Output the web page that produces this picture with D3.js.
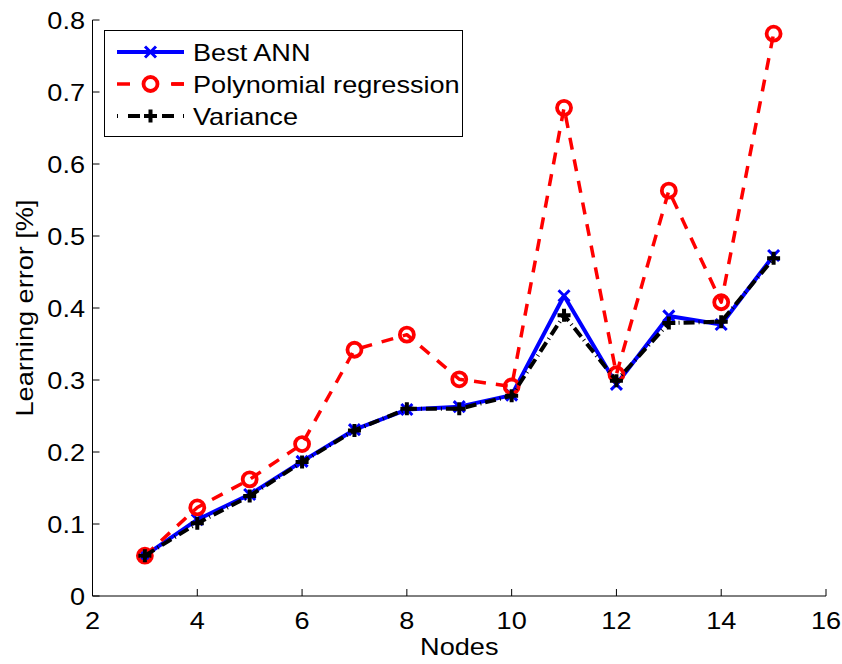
<!DOCTYPE html>
<html>
<head>
<meta charset="utf-8">
<script src="https://cdn.jsdelivr.net/npm/d3@7"></script>
<style>
  body { margin: 0; background: #fff; }
  svg { display: block; font-family: "Liberation Sans", Arial, sans-serif; }
</style>
</head>
<body>
<div class="chart"></div>
<script>
(function () {
  'use strict';

  var nodes = [3, 4, 5, 6, 7, 8, 9, 10, 11, 12, 13, 14, 15];
  var bestAnn = [0.056, 0.106, 0.141, 0.187, 0.231, 0.259, 0.263, 0.279, 0.417, 0.294, 0.389, 0.377, 0.473];
  var polyReg = [0.056, 0.123, 0.162, 0.211, 0.342, 0.363, 0.301, 0.291, 0.678, 0.308, 0.563, 0.408, 0.781];
  var variance = [0.056, 0.101, 0.139, 0.186, 0.230, 0.260, 0.260, 0.278, 0.390, 0.299, 0.379, 0.381, 0.469];
  var xTicks = [2, 4, 6, 8, 10, 12, 14, 16];
  var yTicks = [0, 0.1, 0.2, 0.3, 0.4, 0.5, 0.6, 0.7, 0.8];
  var legendLabels = ['Best ANN', 'Polynomial regression', 'Variance'];

  var W = 842, H = 664;
  var left = 92.5, right = 826, top = 20, bottom = 596;
  var fs = 24, sx = 1.13;

  var x = d3.scaleLinear().domain([2, 16]).range([left, right]);
  var y = d3.scaleLinear().domain([0, 0.8]).range([bottom, top]);

  var svg = d3.select('.chart').append('svg')
      .attr('width', W)
      .attr('height', H);

  function label(g, tx, ty, str, anchor, rot) {
    return g.append('text')
      .attr('transform', 'translate(' + tx + ',' + ty + ')' + (rot ? ' rotate(' + rot + ')' : '') + ' scale(' + sx + ',1)')
      .attr('text-anchor', anchor)
      .attr('font-size', fs)
      .attr('fill', '#000')
      .text(str);
  }

  // axes (left and bottom only, ticks inward)
  var axes = svg.append('g');
  axes.append('line').attr('x1', left).attr('x2', left).attr('y1', top).attr('y2', bottom)
    .attr('stroke', '#000').attr('stroke-width', 1);
  axes.append('line').attr('x1', left).attr('x2', right).attr('y1', bottom).attr('y2', bottom)
    .attr('stroke', '#000').attr('stroke-width', 1);

  xTicks.forEach(function (t) {
    axes.append('line')
      .attr('x1', x(t)).attr('x2', x(t)).attr('y1', bottom).attr('y2', bottom - 7)
      .attr('stroke', '#000');
    label(axes, x(t), 629, t, 'middle');
  });

  yTicks.forEach(function (t) {
    axes.append('line')
      .attr('x1', left).attr('x2', left + 7).attr('y1', y(t)).attr('y2', y(t))
      .attr('stroke', '#000');
    label(axes, 85, y(t) + 8.5, t === 0 ? '0' : d3.format('.1f')(t), 'end');
  });

  label(axes, (left + right) / 2, 655, 'Nodes', 'middle');
  label(axes, 33, (top + bottom) / 2, 'Learning error [%]', 'middle', -90);

  var line = d3.line()
    .x(function (d) { return x(d[0]); })
    .y(function (d) { return y(d[1]); });

  function pairs(vals) {
    return nodes.map(function (n, i) { return [n, vals[i]]; });
  }

  var series = [
    { name: legendLabels[0], values: bestAnn, color: '#0000ff', width: 4, dash: null, marker: 'x' },
    { name: legendLabels[1], values: polyReg, color: '#ff0000', width: 3.5, dash: '12,10', marker: 'o' },
    { name: legendLabels[2], values: variance, color: '#000000', width: 4, dash: '11,4,1,4', marker: '+' }
  ];

  function drawMarker(g, type, cx, cy, color) {
    if (type === 'x') {
      var s = 5.5;
      g.append('path')
        .attr('d', 'M' + (cx - s) + ',' + (cy - s) + 'L' + (cx + s) + ',' + (cy + s) +
                   'M' + (cx - s) + ',' + (cy + s) + 'L' + (cx + s) + ',' + (cy - s))
        .attr('stroke', color).attr('stroke-width', 3).attr('fill', 'none');
    } else if (type === 'o') {
      g.append('circle')
        .attr('cx', cx).attr('cy', cy).attr('r', 7)
        .attr('stroke', color).attr('stroke-width', 3.8).attr('fill', 'none');
    } else {
      var p = 6.5;
      g.append('path')
        .attr('d', 'M' + (cx - p) + ',' + cy + 'L' + (cx + p) + ',' + cy +
                   'M' + cx + ',' + (cy - p) + 'L' + cx + ',' + (cy + p))
        .attr('stroke', color).attr('stroke-width', 4).attr('fill', 'none');
    }
  }

  var plot = svg.append('g');
  series.forEach(function (s) {
    var data = pairs(s.values);
    plot.append('path')
      .datum(data)
      .attr('d', line)
      .attr('fill', 'none')
      .attr('stroke', s.color)
      .attr('stroke-width', s.width)
      .attr('stroke-linejoin', 'round')
      .attr('stroke-dasharray', s.dash);
    data.forEach(function (d) {
      drawMarker(plot, s.marker, x(d[0]), y(d[1]), s.color);
    });
  });

  // legend
  var lg = svg.append('g');
  lg.append('rect')
    .attr('x', 104.5).attr('y', 30.5).attr('width', 358).attr('height', 106)
    .attr('fill', '#fff').attr('stroke', '#000').attr('stroke-width', 1);

  var rowY = [52, 84, 116];
  series.forEach(function (s, i) {
    var ly = rowY[i];
    lg.append('line')
      .attr('x1', 117).attr('x2', 184).attr('y1', ly).attr('y2', ly)
      .attr('stroke', s.color)
      .attr('stroke-width', s.width)
      .attr('stroke-dasharray', s.marker === 'o' ? '13,42' : (s.marker === '+' ? '1,10,12,22,12,10' : null));
    if (s.marker === 'o') {
      lg.append('line')
        .attr('x1', 171).attr('x2', 184).attr('y1', ly).attr('y2', ly)
        .attr('stroke', s.color).attr('stroke-width', s.width);
    }
    if (s.marker === '+') {
      lg.append('line')
        .attr('x1', 183).attr('x2', 184).attr('y1', ly).attr('y2', ly)
        .attr('stroke', s.color).attr('stroke-width', s.width);
    }
    drawMarker(lg, s.marker, 150.5, ly, s.color);
    label(lg, 193, ly + 8.5, s.name, 'start');
  });
}());
</script>
</body>
</html>
